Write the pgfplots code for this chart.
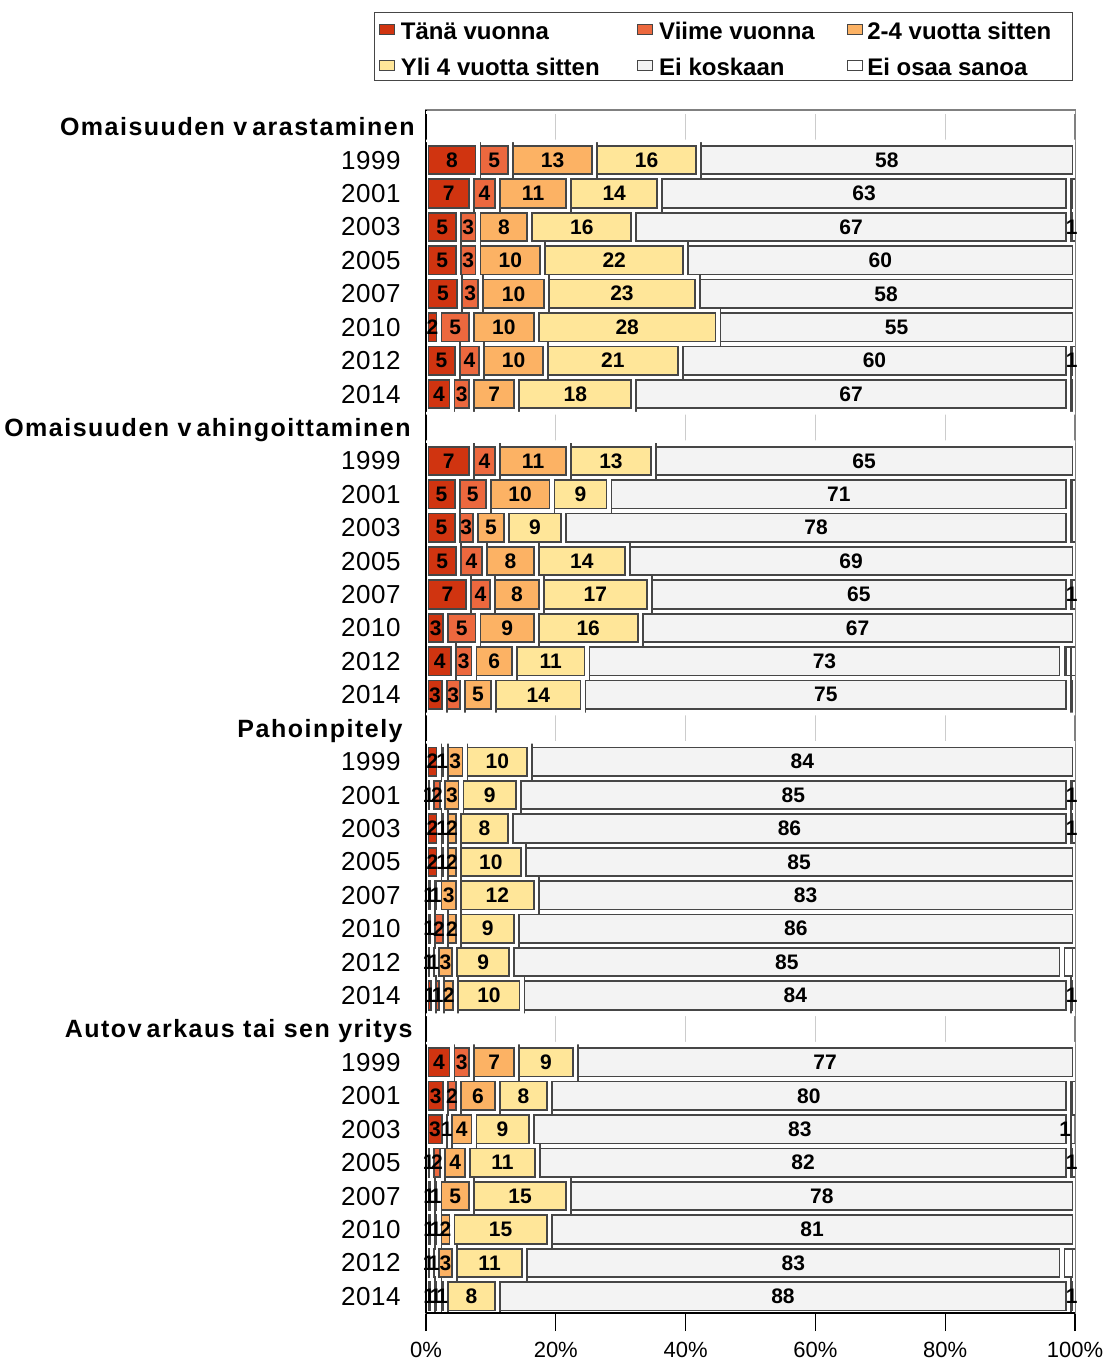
\documentclass[border=0pt]{standalone}
\usepackage{fontspec}
\setmainfont{Liberation Sans}
\usepackage{pgfplots}
\usepackage{pgfplotstable}
\pgfplotsset{compat=1.18}
\definecolor{c1}{RGB}{208,52,16}
\definecolor{c2}{RGB}{236,104,62}
\definecolor{c3}{RGB}{252,178,100}
\definecolor{c4}{RGB}{255,230,153}
\definecolor{c5}{RGB}{243,243,243}
\definecolor{c6}{RGB}{255,255,255}
\definecolor{bord}{RGB}{70,70,70}

\pgfplotstableread{
y a b c d e f
34 8 5 13 16 58 nan
33 7 4 11 14 63 1
32 5 3 8 16 67 1
31 5 3 10 22 60 nan
30 5.2 3.2 10.2 23.2 58.2 nan
29 2 5 10 28 55 nan
28 4.8 3.8 9.8 20.8 59.8 1
27 4 3 7 18 67 1
25 7 4 11 13 65 nan
24 4.8 4.8 9.8 8.8 70.8 1
23 4.8 2.8 4.8 8.8 77.8 1
22 5 4 8 14 69 nan
21 6.6 3.6 7.6 16.6 64.6 1
20 3 5 9 16 67 nan
19 4.2 3.2 6.2 11.2 73.2 2
18 2.8 2.8 4.8 13.8 74.8 1
16 2 1 3 10 84 nan
15 0.8 1.8 2.8 8.8 84.8 1
14 2 1 2 8 86 1
13 2 1 2 10 85 nan
12 1 1 3 12 83 nan
11 1 2 2 9 86 nan
10 0.8 0.8 2.8 8.8 84.8 2
9 1.2 1.2 2.2 10.2 84.2 1
7 4 3 7 9 77 nan
6 3 2 6 8 80 1
5 2.8 0.8 3.8 8.8 82.8 1
4 0.8 1.8 3.8 10.8 81.8 1
3 1 1 5 15 78 nan
2 1 1 2 15 81 nan
1 0.8 0.8 2.8 10.8 82.8 2
0 1 1 1 8 88 1
}\data

\newcommand{\hdr}[2][0bp]{{\bfseries\fontsize{12.5bp}{15bp}\selectfont\addfontfeatures{LetterSpace=6}#2}\kern#1}
\newcommand{\yr}[1]{{\fontsize{13bp}{15bp}\selectfont\addfontfeatures{LetterSpace=2}#1}\kern7bp}

\pgfplotsset{
  bseg/.style={fill=#1, draw=bord, line width=3.4bp,
    postaction={draw=white, line width=1.6bp, fill=none},
    legend image code/.code={%
      \pgfsetfillcolor{#1}\pgfsetstrokecolor{bord}\pgfsetlinewidth{0.6bp}%
      \pgfpathrectanglecorners{\pgfpoint{0bp}{-3bp}}{\pgfpoint{7.5bp}{2bp}}%
      \pgfusepath{fill,stroke}}},
}

\begin{document}
\begin{tikzpicture}
\useasboundingbox (-213bp,-25bp) rectangle (340.5bp,656.5bp);
\begin{axis}[
  at={(0,0)}, anchor=south west, scale only axis,
  width=324.5bp, height=601.5bp,
  xmin=0, xmax=100, ymin=-0.5, ymax=35.5,
  xbar stacked, bar width=1,
  xtick={0,20,40,60,80,100},
  xticklabels={0\%,20\%,40\%,60\%,80\%,100\%},
  xtick align=outside, xtick pos=left, ytick pos=left,
  major tick length=9bp,
  tick style={black, line width=0.6bp},
  xmajorgrids, grid style={black!20, line width=0.6bp},
  axis line style={black!50, line width=0.6bp},
  xticklabel style={font=\fontsize{11bp}{13bp}\selectfont, anchor=north, inner sep=0pt, yshift=-5.5bp},
  ytick={0,...,35},
  yticklabels={\yr{2014},\yr{2012},\yr{2010},\yr{2007},\yr{2005},\yr{2003},\yr{2001},\yr{1999},
    {\hdr[1bp]{Autov\hspace{0.2em}arkaus tai sen yritys}},
    \yr{2014},\yr{2012},\yr{2010},\yr{2007},\yr{2005},\yr{2003},\yr{2001},\yr{1999},
    {\hdr[6bp]{Pahoinpitely}},
    \yr{2014},\yr{2012},\yr{2010},\yr{2007},\yr{2005},\yr{2003},\yr{2001},\yr{1999},
    {\hdr[2bp]{Omaisuuden v\hspace{0.2em}ahingoittaminen}},
    \yr{2014},\yr{2012},\yr{2010},\yr{2007},\yr{2005},\yr{2003},\yr{2001},\yr{1999},
    {\hdr{Omaisuuden v\hspace{0.2em}arastaminen}}},
  ytick style={draw=none},
  yticklabel style={anchor=base east, inner sep=0pt, xshift=-5.5bp, yshift=-4.5bp},
  point meta=explicit symbolic,
  nodes near coords={\pgfmathprintnumber[fixed,precision=0,assume math mode=true]{\pgfplotspointmeta}},
  every node near coord/.append style={font=\bfseries\fontsize{10.5bp}{12bp}\selectfont, anchor=center, inner sep=0pt, text=black},
  legend columns=3,
  legend style={at={(axis description cs:0.99692,1.08146)}, anchor=north east,
    draw=bord, line width=0.6bp, inner xsep=2bp, inner ysep=1bp,
    font=\bfseries\fontsize{12bp}{14bp}\selectfont,
    nodes={inner xsep=2bp, inner ysep=1bp, text height=11.5bp, text depth=0.5bp},
    row sep=4bp,
    /tikz/every even column/.append style={column sep=0pt}},
  legend cell align=left,
]
\addplot[bseg=c1] table[x=a,y=y,meta=a]{\data};
\addlegendentry{\makebox[117bp][l]{\kern1bp Tänä vuonna}}
\addplot[bseg=c2] table[x=b,y=y,meta=b]{\data};
\addlegendentry{\makebox[93bp][l]{\kern1bp Viime vuonna}}
\addplot[bseg=c3] table[x=c,y=y,meta=c]{\data};
\addlegendentry{\makebox[98.5bp][l]{2-4 vuotta sitten}}
\addplot[bseg=c4] table[x=d,y=y,meta=d]{\data};
\addlegendentry{\makebox[117bp][l]{\kern1bp Yli 4 vuotta sitten}}
\addplot[bseg=c5] table[x=e,y=y,meta=e]{\data};
\addlegendentry{\makebox[93bp][l]{\kern1bp Ei koskaan}}
\addplot[bseg=c6] table[x=f,y=y,meta=f]{\data};
\addlegendentry{\makebox[98.5bp][l]{Ei osaa sanoa}}
\end{axis}
\begin{axis}[
  at={(0,0)}, anchor=south west, scale only axis,
  width=324.5bp, height=601.5bp,
  xmin=0, xmax=100, ymin=-0.5, ymax=35.5,
  axis lines*=left, axis line style={black, line width=0.8bp, -},
  xtick=\empty, ytick=\empty,
  xbar, bar width=0.08,
]
\addplot[fill=white, draw=none, bar shift=0.425] coordinates {(100,35) (100,26) (100,17) (100,8)};
\addplot[fill=white, draw=none, bar shift=-0.425] coordinates {(100,35) (100,26) (100,17) (100,8)};
\end{axis}
\end{tikzpicture}
\end{document}
